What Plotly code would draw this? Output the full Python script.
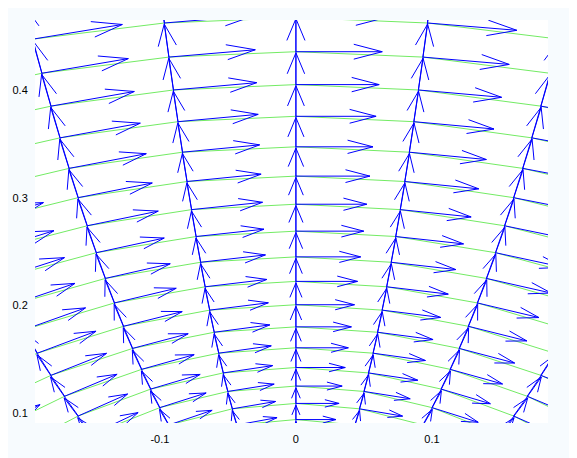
import math
import plotly.graph_objects as go
import plotly.figure_factory as ff

# Grid coordinates (parabolic coordinates)
sigma_values = [-0.5, -0.4, -0.3, -0.2, -0.1, 0.0, 0.1, 0.2, 0.3, 0.4, 0.5]
tau_values = [0.26667, 0.30000, 0.33333, 0.36667, 0.40000, 0.43333, 0.46667,
              0.50000, 0.53333, 0.56667, 0.60000, 0.63333, 0.66667, 0.70000,
              0.73333, 0.76667, 0.80000, 0.83333, 0.86667, 0.90000, 0.93333,
              0.96667, 1.00000, 1.03333]

x_tick_vals = [-0.1, 0.0, 0.1]
x_tick_text = ["-0.1", "0", "0.1"]
y_tick_vals = [0.1, 0.2, 0.3, 0.4]
y_tick_text = ["0.1", "0.2", "0.3", "0.4"]

arrow_scale_factor = 0.068
x_range = [-0.1918, 0.1853]
y_range = [0.0907, 0.4650]


def to_xy(s, t):
    return s * t, (t * t - s * s) / 2.0


fig = go.Figure()

# green coordinate curves (tau = const)
for t in tau_values:
    xs, ys = [], []
    for s in sigma_values:
        px, py = to_xy(s, t)
        xs.append(px)
        ys.append(py)
    fig.add_trace(go.Scatter(x=xs, y=ys, mode="lines",
                             line=dict(color="rgb(115,235,100)", width=1),
                             hoverinfo="skip", showlegend=False))

# node positions and basis vectors
X, Y, U, V = [], [], [], []
for s in sigma_values:
    for t in tau_values:
        px, py = to_xy(s, t)
        # d/dtau direction
        X.append(px); Y.append(py); U.append(s); V.append(t)
        # d/dsigma direction
        X.append(px); Y.append(py); U.append(t); V.append(-s)

q = ff.create_quiver(X, Y, U, V, scale=arrow_scale_factor,
                     arrow_scale=0.3475, angle=math.atan(0.33),
                     line=dict(color="rgb(0,0,255)", width=1))
for tr in q.data:
    tr.hoverinfo = "skip"
    tr.showlegend = False
    fig.add_trace(tr)

fig.update_layout(
    width=577, height=458,
    margin=dict(l=27, r=37, t=12, b=43),
    paper_bgcolor="rgb(247,251,254)",
    plot_bgcolor="white",
    showlegend=False,
    font=dict(family="Liberation Sans, Arial, sans-serif", size=11, color="black"),
)
fig.update_xaxes(range=x_range, tickvals=x_tick_vals, ticktext=x_tick_text,
                 showgrid=False, zeroline=False, showline=False, automargin=False,
                 ticks="outside", ticklen=6, tickcolor="rgba(0,0,0,0)")
fig.update_yaxes(range=y_range, tickvals=y_tick_vals, ticktext=y_tick_text,
                 showgrid=False, zeroline=False, showline=False, automargin=False,
                 ticks="outside", ticklen=4, tickcolor="rgba(0,0,0,0)")

fig.write_html("out.html")
